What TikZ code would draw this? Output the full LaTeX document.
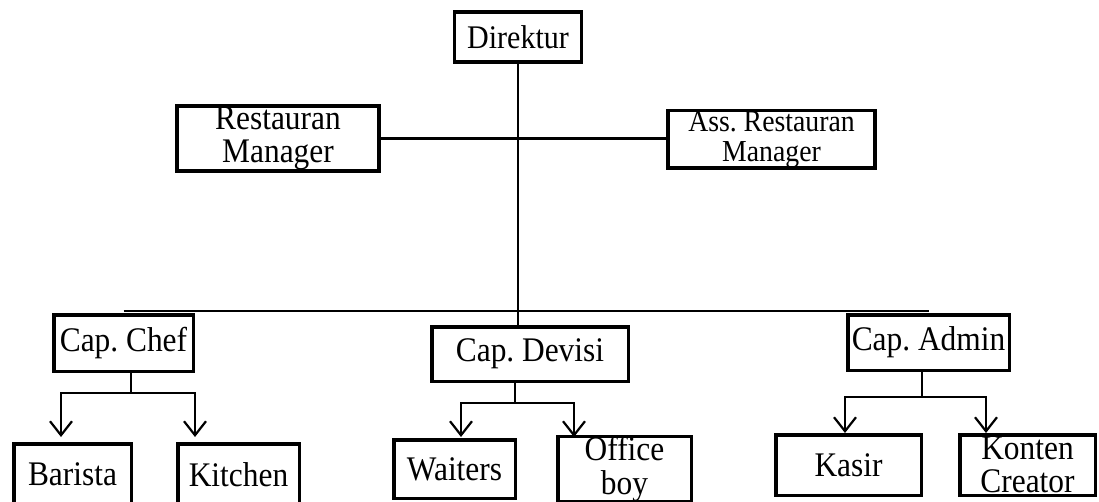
\documentclass[tikz,border=0pt]{standalone}
\usepackage{fontspec}
\setmainfont{Liberation Serif}[FakeStretch=0.91]
\usetikzlibrary{arrows.meta}
\frenchspacing
\tikzset{
  box/.style={draw, line width=3.5pt, inner sep=0pt, align=center,
    font=\fontsize{34.5}{33.5}\selectfont},
  link/.style={line width=2.2pt},
  arr/.style={link, -{Straight Barb[length=14pt,width=22pt]}},
}
\begin{document}
\begin{tikzpicture}[x=1pt,y=-1pt]
  \useasboundingbox (0,0) rectangle (1099,502);
  % top level
  \node[box, minimum width=127, minimum height=50, font=\fontsize{33}{31}\selectfont] (dir) at (518,37) {Direktur};
  \node[box, minimum width=202, minimum height=65] (rm) at (278,138.5) {Restauran\\Manager};
  \node[box, minimum width=207, minimum height=57.5, font=\fontsize{30.5}{30.5}\selectfont] (ass) at (771.5,139.5) {Ass. Restauran\\Manager};
  % captains
  \node[box, minimum width=139.5, minimum height=56.5] (chef) at (123.5,343) {Cap. Chef};
  \node[box, minimum width=196.5, minimum height=54.5] (devisi) at (530,354) {Cap. Devisi};
  \node[box, minimum width=161.5, minimum height=55.5] (admin) at (928.5,342.5) {Cap. Admin};
  % staff
  \node[box, minimum width=117.5, minimum height=61.5] (barista) at (72.5,474.5) {Barista};
  \node[box, minimum width=121.5, minimum height=61.5] (kitchen) at (238.5,474.5) {Kitchen};
  \node[box, minimum width=121.5, minimum height=58.5] (waiters) at (454.5,469) {Waiters};
  \node[box, minimum width=133.5, minimum height=58.5] (office) at (624.5,469) {Office\\boy};
  \node[box, minimum width=145.5, minimum height=60.5] (kasir) at (848.5,465) {Kasir};
  \node[box, minimum width=135.5, minimum height=60.5] (konten) at (1027.5,465) {Konten\\Creator};

  % main lines
  \draw[link] (dir.south) -- (dir.south |- devisi.north);
  \draw[link] (rm.east) -- (rm.east -| ass.west);
  \draw[link] ([yshift=2pt]chef.north) -- ([yshift=2pt]admin.north);

  % forks
  \coordinate (chefFork) at (131,393);
  \coordinate (baristaIn) at (61,437);
  \coordinate (kitchenIn) at (195,437);
  \coordinate (devisiFork) at (515,403);
  \coordinate (waitersIn) at (461,437);
  \coordinate (officeIn) at (574,437);
  \coordinate (adminFork) at (922,397);
  \coordinate (kasirIn) at (845,433);
  \coordinate (kontenIn) at (986,433);

  \draw[link] (chef.south -| chefFork) -- (chefFork);
  \draw[arr] (chefFork) -| (baristaIn);
  \draw[arr] (chefFork) -| (kitchenIn);
  \draw[link] (devisi.south -| devisiFork) -- (devisiFork);
  \draw[arr] (devisiFork) -| (waitersIn);
  \draw[arr] (devisiFork) -| (officeIn);
  \draw[link] (admin.south -| adminFork) -- (adminFork);
  \draw[arr] (adminFork) -| (kasirIn);
  \draw[arr] (adminFork) -| (kontenIn);
\end{tikzpicture}
\end{document}
